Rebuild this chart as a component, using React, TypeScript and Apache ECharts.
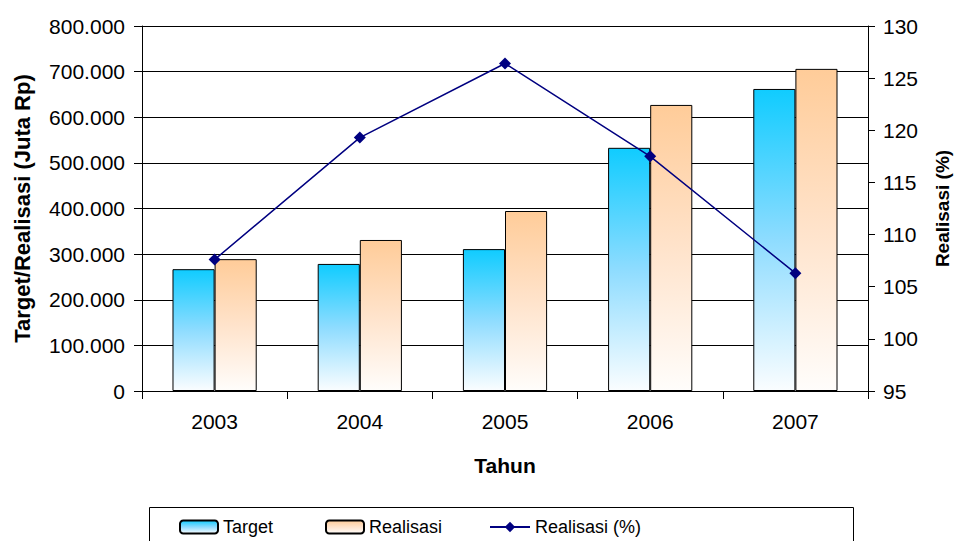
import React, { useEffect, useRef } from "react";
import * as echarts from "echarts";

const categories = ["2003", "2004", "2005", "2006", "2007"];
const targetValues = [267000, 278500, 311000, 533000, 662000];
const realisasiValues = [289000, 331000, 394500, 627000, 706000];
const realisasiPct = [107.6, 119.3, 126.4, 117.5, 106.3];

const FONT = "'Liberation Sans', Arial, sans-serif";

function fmtThousands(v: number): string {
  return String(Math.round(v)).replace(/\B(?=(\d{3})+(?!\d))/g, ".");
}

export default function App() {
  const ref = useRef<HTMLDivElement>(null);
  useEffect(() => {
    if (!ref.current) return;
    const chart = echarts.init(ref.current, undefined, { renderer: "svg" });
    const blueGrad = new echarts.graphic.LinearGradient(0, 0, 0, 1, [
      { offset: 0, color: "#10CCFF" },
      { offset: 0.5, color: "#8EDCFF" },
      { offset: 1, color: "#FAFDFF" },
    ]);
    const orangeGrad = new echarts.graphic.LinearGradient(0, 0, 0, 1, [
      { offset: 0, color: "#FFCC99" },
      { offset: 0.5, color: "#FFE3CB" },
      { offset: 1, color: "#FFFDFB" },
    ]);
    const legendText = { fontFamily: FONT, fontSize: 18, color: "#000" };
    chart.setOption({
      animation: false,
      backgroundColor: "#fff",
      textStyle: { fontFamily: FONT },
      grid: {
        left: 142,
        right: 88,
        top: 26,
        bottom: 150,
        containLabel: false,
        outerBoundsMode: "none",
      },
      graphic: [
        {
          type: "rect",
          shape: { x: 149.5, y: 507.5, width: 704, height: 50 },
          style: { fill: "#fff", stroke: "#000", lineWidth: 1 },
          z: 0,
        },
      ],
      legend: [
        {
          data: ["Target"],
          left: 174,
          top: 513,
          itemWidth: 38,
          itemHeight: 13,
          textStyle: legendText,
          z: 10,
        },
        {
          data: ["Realisasi"],
          left: 320,
          top: 513,
          itemWidth: 38,
          itemHeight: 13,
          textStyle: legendText,
          z: 10,
        },
        {
          data: ["Realisasi (%)"],
          left: 484,
          top: 513,
          itemWidth: 40,
          itemHeight: 13,
          textStyle: legendText,
          z: 10,
        },
      ],
      xAxis: {
        type: "category",
        data: categories,
        boundaryGap: true,
        name: "Tahun",
        nameLocation: "middle",
        nameGap: 64,
        nameTextStyle: { fontFamily: FONT, fontSize: 21, fontWeight: "bold", color: "#000" },
        axisLine: { lineStyle: { color: "#000", width: 1 } },
        axisTick: { show: true, alignWithLabel: false, length: 8, lineStyle: { color: "#000" } },
        axisLabel: { fontFamily: FONT, fontSize: 21, color: "#000", margin: 20 },
      },
      yAxis: [
        {
          type: "value",
          min: 0,
          max: 800000,
          interval: 100000,
          name: "Target/Realisasi (Juta Rp)",
          nameLocation: "middle",
          nameGap: 109,
          nameTextStyle: { fontFamily: FONT, fontSize: 22, fontWeight: "bold", color: "#000" },
          axisLine: { show: true, lineStyle: { color: "#000", width: 1 } },
          axisTick: { show: true, length: 8, lineStyle: { color: "#000" } },
          axisLabel: {
            fontFamily: FONT,
            fontSize: 21,
            color: "#000",
            margin: 17,
            formatter: (v: number) => fmtThousands(v),
          },
          splitLine: { show: true, lineStyle: { color: "#000", width: 1 } },
        },
        {
          type: "value",
          min: 95,
          max: 130,
          interval: 5,
          position: "right",
          name: "Realisasi (%)",
          nameLocation: "middle",
          nameGap: 65,
          nameRotate: 90,
          nameTextStyle: { fontFamily: FONT, fontSize: 19, fontWeight: "bold", color: "#000" },
          axisLine: { show: true, lineStyle: { color: "#000", width: 1 } },
          axisTick: { show: true, length: 7, lineStyle: { color: "#000" } },
          axisLabel: { fontFamily: FONT, fontSize: 21, color: "#000", margin: 15 },
          splitLine: { show: false },
        },
      ],
      series: [
        {
          name: "Target",
          type: "bar",
          data: targetValues,
          yAxisIndex: 0,
          barGap: "0%",
          barCategoryGap: "42%",
          itemStyle: { color: blueGrad, borderColor: "#000", borderWidth: 1 },
        },
        {
          name: "Realisasi",
          type: "bar",
          data: realisasiValues,
          yAxisIndex: 0,
          barGap: "0%",
          barCategoryGap: "42%",
          itemStyle: { color: orangeGrad, borderColor: "#000", borderWidth: 1 },
        },
        {
          name: "Realisasi (%)",
          type: "line",
          data: realisasiPct,
          yAxisIndex: 1,
          symbol: "diamond",
          symbolSize: 12,
          lineStyle: { color: "#000080", width: 1.5 },
          itemStyle: { color: "#000080" },
          z: 5,
        },
      ],
    });
    return () => chart.dispose();
  }, []);
  return <div ref={ref} style={{ width: 956, height: 541, position: "absolute", left: 0, top: 0 }} />;
}
